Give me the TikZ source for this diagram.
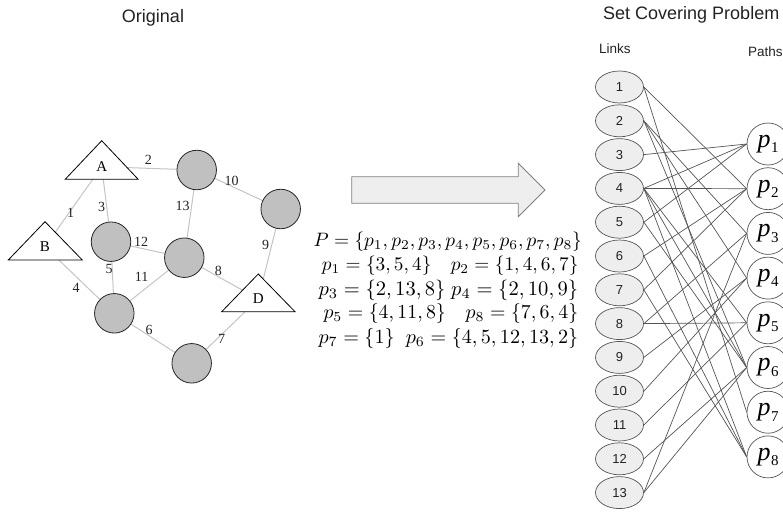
\documentclass[tikz,border=0pt]{standalone}
\usepackage[no-math]{fontspec}
\usepackage{graphicx}
\newfontfamily\arial{Liberation Sans}
\newfontfamily\tms{Liberation Serif}
\usetikzlibrary{shapes.geometric}
\pgfdeclarelayer{bg}
\pgfsetlayers{bg,main}
\definecolor{edgegray}{HTML}{C4C4C4}
\definecolor{nodegray}{HTML}{C0C0C0}
\definecolor{linkfill}{HTML}{EEEEEE}
\definecolor{bipline}{HTML}{555555}
\definecolor{arrowfill}{HTML}{EEEEEE}
\definecolor{arrowdraw}{HTML}{808080}
\definecolor{textdark}{HTML}{222222}
\newcommand\plab[1]{{\tms\itshape\fontsize{26}{26}\selectfont p}\kern0.5pt\raisebox{-5.5pt}{\tms\fontsize{15}{15}\selectfont #1}}
\tikzset{
  gnode/.style={circle, draw=black!85, fill=nodegray, minimum size=39.5pt, inner sep=0pt, line width=0.8pt},
  gedge/.style={draw=edgegray, line width=1pt},
  elab/.style={font=\tms\fontsize{14}{14}\selectfont, text=textdark, inner sep=0pt},
  tlab/.style={font=\tms\fontsize{15}{15}\selectfont, text=black, inner sep=1pt},
  tri/.style={draw=black, fill=white, line width=0.8pt, line join=miter},
  linknode/.style={ellipse, draw=bipline, fill=linkfill, minimum width=48pt, minimum height=32pt, inner sep=0pt, font=\arial\fontsize{13}{13}\selectfont, text=textdark, line width=0.7pt},
  pathnode/.style={circle, draw=bipline, fill=white, minimum size=42pt, inner sep=0pt, line width=0.7pt},
  bipedge/.style={draw=bipline, line width=0.7pt},
  ttl/.style={font=\arial\fontsize{18}{18}\selectfont, text=textdark, inner sep=0pt},
  subttl/.style={font=\arial\fontsize{13.5}{13.5}\selectfont, text=textdark, inner sep=0pt, anchor=west},
  mathline/.style={anchor=west, inner sep=0pt},
  bigarrow/.style={fill=arrowfill, draw=arrowdraw, line width=0.8pt}
}
\begin{document}
\begin{tikzpicture}[x=1pt,y=-1pt]
\useasboundingbox (0,0) rectangle (783,511);

% titles
\node[ttl] (t1) at (153,18.3) {Original};
\node[ttl, anchor=west] (t2) at (603,15) {Set Covering Problem};
\node[subttl] (tl) at (599,48.3) {Links};
\node[subttl] (tp) at (748,51.7) {Paths};

% triangles
\draw[tri] (101.7,140.7) -- (138.2,179.3) -- (65.2,179.3) -- cycle;
\draw[tri] (45,221.7) -- (82.3,260) -- (8.3,260) -- cycle;
\draw[tri] (258.3,274) -- (295,311.7) -- (221.7,311.7) -- cycle;
\node[tlab] (A) at (101.7,166.7) {A};
\node[tlab] (B) at (45,246.7) {B};
\node[tlab] (D) at (258.3,299) {D};

% circles
\node[gnode] (c1) at (196.7,170) {};
\node[gnode] (c2) at (280.7,209) {};
\node[gnode] (c3) at (111,241.7) {};
\node[gnode] (c4) at (184.3,257.7) {};
\node[gnode] (c5) at (114.3,313.3) {};
\node[gnode] (c6) at (191.7,363.3) {};

\begin{pgfonlayer}{bg}
\draw[gedge] (A) -- (B);
\draw[gedge] (A) -- (c1);
\draw[gedge] (A) -- (c3);
\draw[gedge] (B) -- (c5);
\draw[gedge] (c3) -- (c5);
\draw[gedge] (c5) -- (c6);
\draw[gedge] (c6) -- (D);
\draw[gedge] (c4) -- (D);
\draw[gedge] (c2) -- (D);
\draw[gedge] (c1) -- (c2);
\draw[gedge] (c5) -- (c4);
\draw[gedge] (c3) -- (c4);
\draw[gedge] (c1) -- (c4);
\end{pgfonlayer}

% edge labels
\node[elab] (e1) at (70.7,213.3) {1};
\node[elab] (e2) at (148.3,160) {2};
\node[elab] (e3) at (101.7,207.3) {3};
\node[elab] (e4) at (76,288.3) {4};
\node[elab] (e5) at (109,269) {5};
\node[elab] (e6) at (149,330) {6};
\node[elab] (e7) at (221.7,339.3) {7};
\node[elab] (e8) at (218.3,271) {8};
\node[elab] (e9) at (265.7,245) {9};
\node[elab] (e10) at (231.7,180.7) {10};
\node[elab] (e11) at (141.7,277.3) {11};
\node[elab] (e12) at (141,241.7) {12};
\node[elab] (e13) at (182.7,206) {13};

% big arrow
\draw[bigarrow] (351.7,176.7) -- (518.3,176.7) -- (518.3,163.3) -- (545,190)
  -- (518.3,216.7) -- (518.3,203.3) -- (351.7,203.3) -- cycle;

% math text
\node[mathline] (m1) at (313.3,242) {\resizebox{268.4pt}{!}{$P=\{p_1,p_2,p_3,p_4,p_5,p_6,p_7,p_8\}$}};
\node[mathline] (m2) at (321.7,266) {\resizebox{256.6pt}{!}{$p_1=\{3,5,4\}\quad p_2=\{1,4,6,7\}$}};
\node[mathline] (m3) at (318.3,290) {\resizebox{259.7pt}{!}{$p_3=\{2,13,8\}\; p_4=\{2,10,9\}$}};
\node[mathline] (m4) at (323.3,314) {\resizebox{254.7pt}{!}{$p_5=\{4,11,8\}\quad p_8=\{7,6,4\}$}};
\node[mathline] (m5) at (318.3,338) {\resizebox{259.7pt}{!}{$p_7=\{1\}\;\; p_6=\{4,5,12,13,2\}$}};

% bipartite graph
\foreach \k in {1,...,13}
  \node[linknode] (L\k) at (619.5,{87+33.8*(\k-1)}) {\k};
\foreach \j in {1,...,8}
  \node[pathnode] (p\j) at (768,{144+44.7*(\j-1)}) {\plab{\j}};
\foreach \a/\b in {1/2,1/7,2/3,2/4,2/6,3/1,4/1,4/2,4/5,4/6,4/8,5/1,5/6,6/2,6/8,7/2,7/8,8/3,8/5,9/4,10/4,11/5,12/6,13/3,13/6}
  \draw[bipedge] (L\a.east) -- (p\b.west);
\end{tikzpicture}
\end{document}
